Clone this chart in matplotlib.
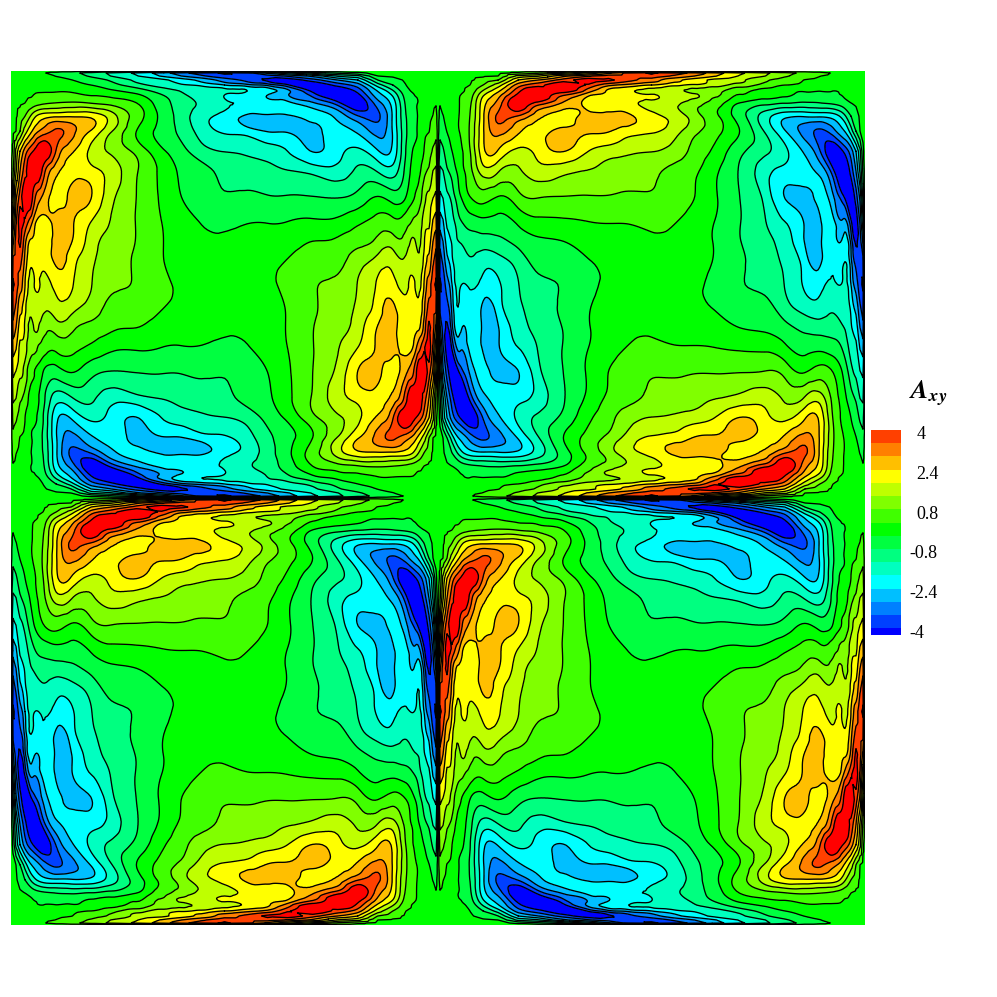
import numpy as np
import matplotlib
matplotlib.use("Agg")
import matplotlib.pyplot as plt
import matplotlib.tri as mtri

plt.rcParams['font.family'] = ['Liberation Serif', 'DejaVu Serif']
plt.rcParams['mathtext.fontset'] = 'stix'

# grid offsets (pixels of the reference) from the edge of one quarter cell
offsets = [0, 2, 5, 9, 14, 22, 32, 45, 60, 80, 100, 125, 150, 170, 190, 213]

col_00 = [0] * 16
col_02 = [0, 0, 0, 0, -.02, -.08, -.22, -.45, -.65, -1.0, -1.45, -1.97, -2.65, -3.3, -3.75, -4.1]
col_05 = [0, 0, 0, 0, -.02, -.05, -.15, -.28, -.5, -.88, -1.35, -1.82, -2.45, -2.93, -3.37, -3.85]
col_09 = [0, 0, .02, .02, .02, 0, -.05, -.15, -.25, -.55, -.87, -1.45, -1.72, -2.15, -2.55, -3.2]
col_14 = [0, .02, .05, .08, .1, .1, .05, -.02, -.12, -.27, -.62, -1.12, -1.55, -1.78, -2.0, -2.4]
col_22 = [0, .05, .1, .15, .2, .25, .28, .3, .3, .18, 0, -.32, -.88, -1.3, -1.55, -1.8]
col_32 = [0, .06, .14, .2, .27, .5, .7, .82, .88, .78, .62, .28, -.55, -1.05, -1.45, -1.78]
col_45 = [0, .1, .2, .45, .8, 1.6, 2.15, 2.3, 2.33, 2.25, 1.6, .55, -.4, -1.05, -1.65, -2.05]
col_60 = [0, .1, .27, .8, 1.6, 2.5, 3.15, 3.55, 3.15, 2.35, 1.38, .27, -.45, -.95, -1.55, -1.95]
col_80 = [0, .4, 1.5, 2.4, 3.2, 4.0, 4.5, 3.43, 2.5, 1.75, 1.22, .65, -.15, -.62, -1.12, -1.35]
col_100 = [0, .7, 1.8, 2.93, 3.8, 4.7, 3.8, 2.55, 2.25, 2.05, 1.65, .85, .15, -.35, -.6, -.95]
col_125 = [0, 1.2, 2.8, 3.7, 4.6, 3.9, 2.85, 2.25, 2.5, 2.42, 1.5, .8, .18, -.27, -.55, -.75]
col_150 = [0, 2.0, 3.4, 4.4, 3.9, 2.85, 2.2, 2.5, 2.47, 1.87, 1.3, .78, .27, -.03, -.3, -.38]
col_170 = [0, 2.8, 3.75, 4.15, 3.1, 2.25, 2.15, 2.5, 2.43, 1.6, 1.15, .78, .3, .05, -.15, -.2]
col_190 = [0, 3.7, 3.8, 3.65, 2.75, 2.0, 2.0, 2.5, 2.15, 1.42, 1.05, .72, .3, .12, 0, -.05]
col_213 = [0, 4.1, 3.85, 3.2, 2.4, 1.8, 1.78, 2.05, 1.95, 1.35, .95, .75, .38, .2, .05, 0]

levels = [-4, -3.467, -2.933, -2.4, -1.867, -1.333, -0.8, -0.267,
          0.267, 0.8, 1.333, 1.867, 2.4, 2.933, 3.467, 4]
band_colors = ['#0000ff', '#0040ff', '#0080ff', '#00bfff', '#00ffff', '#00ffc0',
               '#00ff80', '#00ff40', '#00ff00', '#40ff00', '#80ff00', '#bfff00',
               '#ffff00', '#ffbf00', '#ff8000', '#ff4000', '#ff0000']
bar_ticks = [4, 2.4, 0.8, -0.8, -2.4, -4]

S = np.array([col_00, col_02, col_05, col_09, col_14, col_22, col_32, col_45, col_60,
              col_80, col_100, col_125, col_150, col_170, col_190, col_213]).T
n = len(offsets)

# the picture repeats: each quadrant is this block turned four times with sign flips
Q = np.zeros((2 * n - 1, 2 * n - 1))
Q[:n, n - 1:] = -np.rot90(S, -1)
Q[n - 1:, n - 1:] = np.rot90(S, 2)
Q[n - 1:, :n] = -np.rot90(S, 1)
Q[:n, :n] = S

top = np.hstack([-Q[:, ::-1], Q[:, 1:]])
Z = np.vstack([top[:-1], -top[::-1]])  # row 0 is the top of the picture

half = np.array(offsets + [426 - o for o in offsets[-2::-1]], dtype=float)
xs = np.concatenate([half - 426, half[1:]])
ys = -xs
X, Y = np.meshgrid(xs, ys)

nx = len(xs)
ids = np.arange(nx * nx).reshape(nx, nx)
tris = np.vstack([
    np.c_[ids[:-1, :-1].ravel(), ids[:-1, 1:].ravel(), ids[1:, 1:].ravel()],
    np.c_[ids[:-1, :-1].ravel(), ids[1:, 1:].ravel(), ids[1:, :-1].ravel()],
])
grid = mtri.Triangulation(X.ravel(), Y.ravel(), tris)
interp = mtri.CubicTriInterpolator(grid, Z.ravel(), kind='min_E')
fine, zfine = mtri.UniformTriRefiner(grid).refine_field(Z.ravel(), triinterpolator=interp, subdiv=3)

# cubic overshoots next to the sharp walls, so use the straight one there
zlin = np.ma.filled(mtri.LinearTriInterpolator(grid, Z.ravel())(fine.x, fine.y), 0.0)
wall = np.minimum.reduce([np.abs(fine.x), np.abs(fine.y), 426 - np.abs(fine.x), 426 - np.abs(fine.y)])
w = np.clip((wall - 6) / 14, 0, 1)
zfine = w * zfine + (1 - w) * zlin

fig = plt.figure(figsize=(9.97, 9.97), dpi=100)
ax = fig.add_axes([11 / 997, 72 / 997, 854 / 997, 854 / 997])
ax.tricontourf(fine, zfine, levels=levels, colors=band_colors, extend='both')
ax.tricontour(fine, zfine, levels=levels, colors='black', linewidths=0.95, linestyles='solid')
ax.set_xlim(-426, 426)
ax.set_ylim(-426, 426)
ax.axis('off')

# colour bar
cax = fig.add_axes([871 / 997, 362 / 997, 30 / 997, 205 / 997])
edges = [-4.27] + levels
for i in range(len(levels)):
    cax.bar(0.5, edges[i + 1] - edges[i], bottom=edges[i], width=1, color=band_colors[i], linewidth=0)
cax.set_xlim(0, 1)
cax.set_ylim(-4.27, 4)
cax.axis('off')

for t in bar_ticks:
    lab = f"{t:g}"
    dx = 11 if lab[0] != '-' else 6
    cax.annotate(lab, xy=(1, t), xycoords=('axes fraction', 'data'), xytext=(dx, -3.5),
                 textcoords='offset points', fontsize=13, ha='left', va='center')

fig.text(928 / 997, 1 - 394 / 997, r'$\mathbfit{A}_{\mathbfit{xy}}$', fontsize=19, ha='center', va='center')

fig.savefig('out.png', dpi=100)
